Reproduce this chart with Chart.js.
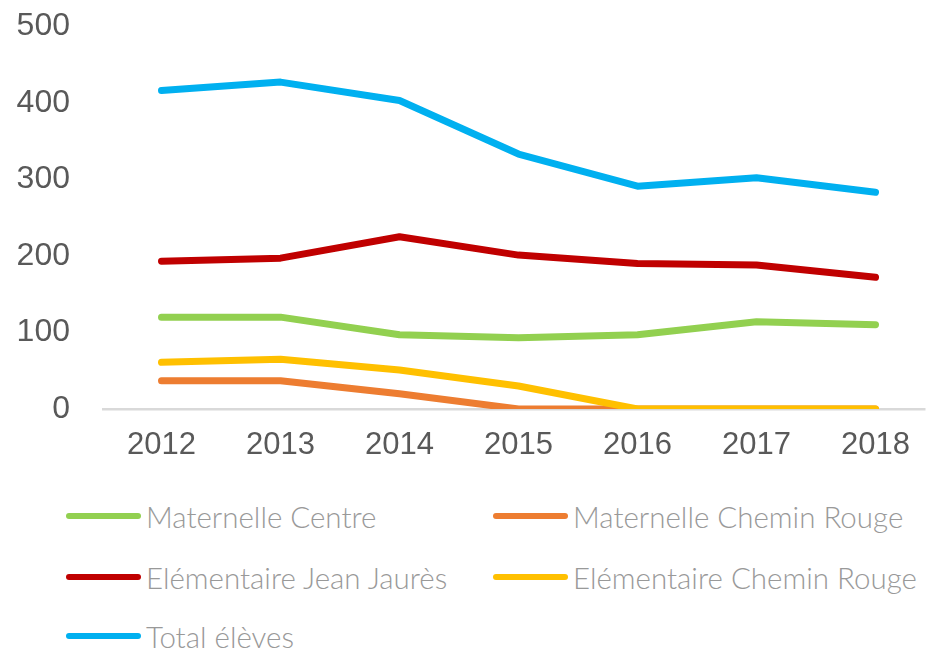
<!DOCTYPE html>
<html>
<head>
<meta charset="utf-8">
<script src="https://cdn.jsdelivr.net/npm/chart.js@4"></script>
<style>
  body { margin: 0; background: #fff; overflow: hidden; }
  #wrap { position: relative; width: 928px; height: 650px; overflow: hidden; }
  #chartBox { position: absolute; left: 0; top: -25px; width: 928px; height: 495px; }
  .leg { position: absolute; display: flex; align-items: center; height: 40px;
         font-family: Lato, "Open Sans", sans-serif; font-weight: 300; font-size: 29.5px; color: #999999; white-space: nowrap; }
  .leg span.line { display: inline-block; width: 75px; height: 6px; border-radius: 3px; margin-right: 5px; }
</style>
</head>
<body>
<div id="wrap">
  <div id="chartBox"><canvas id="myChart" width="928" height="495"></canvas></div>
  <div id="legend"></div>
</div>
<script>
// données
const years = [2012, 2013, 2014, 2015, 2016, 2017, 2018];
const yTicks = [0, 100, 200, 300, 400, 500];

const maternelleCentre = [120, 120, 97, 93, 97, 114, 110];
const maternelleCheminRouge = [37, 37, 20, 0, 0, 0, 0];
const elementaireJeanJaures = [193, 197, 225, 201, 190, 188, 172];
const elementaireCheminRouge = [61, 65, 51, 30, 0, 0, 0];
const totalEleves = [416, 427, 403, 333, 291, 302, 283];

const seriesNames = ['Maternelle Centre', 'Maternelle Chemin Rouge', 'Elémentaire Jean Jaurès', 'Elémentaire Chemin Rouge', 'Total élèves'];
const seriesValues = [maternelleCentre, maternelleCheminRouge, elementaireJeanJaures, elementaireCheminRouge, totalEleves];
const colors = ['#92d050', '#ed7d31', '#c00000', '#ffc000', '#00b0f0'];

const datasets = seriesNames.map((name, i) => ({
    label: name,
    data: years.map((y, j) => ({ x: y, y: seriesValues[i][j] })),
    borderColor: colors[i],
    backgroundColor: colors[i],
    borderWidth: 7,
    borderCapStyle: 'round',
    borderJoinStyle: 'round',
    pointRadius: 0,
    tension: 0,
    order: seriesNames.length - i // les dernières séries passent dessus
}));

const ctx = document.getElementById('myChart').getContext('2d');
const myChart = new Chart(ctx, {
    type: 'line',
    data: { datasets: datasets },
    options: {
        responsive: false,
        animation: false,
        layout: { padding: { top: 0, right: 0, left: 0, bottom: 0 } },
        scales: {
            x: {
                type: 'linear',
                min: 2011.5,
                max: 2018.42,
                afterBuildTicks: s => { s.ticks = years.map(v => ({ value: v })); },
                afterFit: s => { s.height = 61; },
                grid: { display: false, drawTicks: false },
                border: { display: false },
                ticks: {
                    padding: 18,
                    color: '#595959',
                    font: { family: '"Liberation Sans", Arial', size: 31 },
                    callback: v => String(v)
                }
            },
            y: {
                min: 0,
                max: 500,
                afterBuildTicks: s => { s.ticks = yTicks.map(v => ({ value: v })); },
                afterFit: s => { s.width = 102; },
                grid: {
                    drawTicks: false,
                    lineWidth: 2.5,
                    color: c => c.tick && c.tick.value === 0 ? '#d9d9d9' : 'rgba(0,0,0,0)'
                },
                border: { display: false },
                ticks: {
                    padding: 32,
                    color: '#595959',
                    font: { family: '"Liberation Sans", Arial', size: 32 }
                }
            }
        },
        plugins: {
            legend: { display: false },
            tooltip: { enabled: false }
        }
    }
});

// légende sur deux colonnes
const legendPos = [[66, 496], [493, 496], [66, 557], [493, 557], [66, 616]];
const legend = document.getElementById('legend');
seriesNames.forEach((name, i) => {
    const div = document.createElement('div');
    div.className = 'leg';
    div.style.left = legendPos[i][0] + 'px';
    div.style.top = legendPos[i][1] + 'px';
    div.innerHTML = '<span class="line" style="background:' + colors[i] + '"></span>' + name;
    legend.appendChild(div);
});
</script>
</body>
</html>
